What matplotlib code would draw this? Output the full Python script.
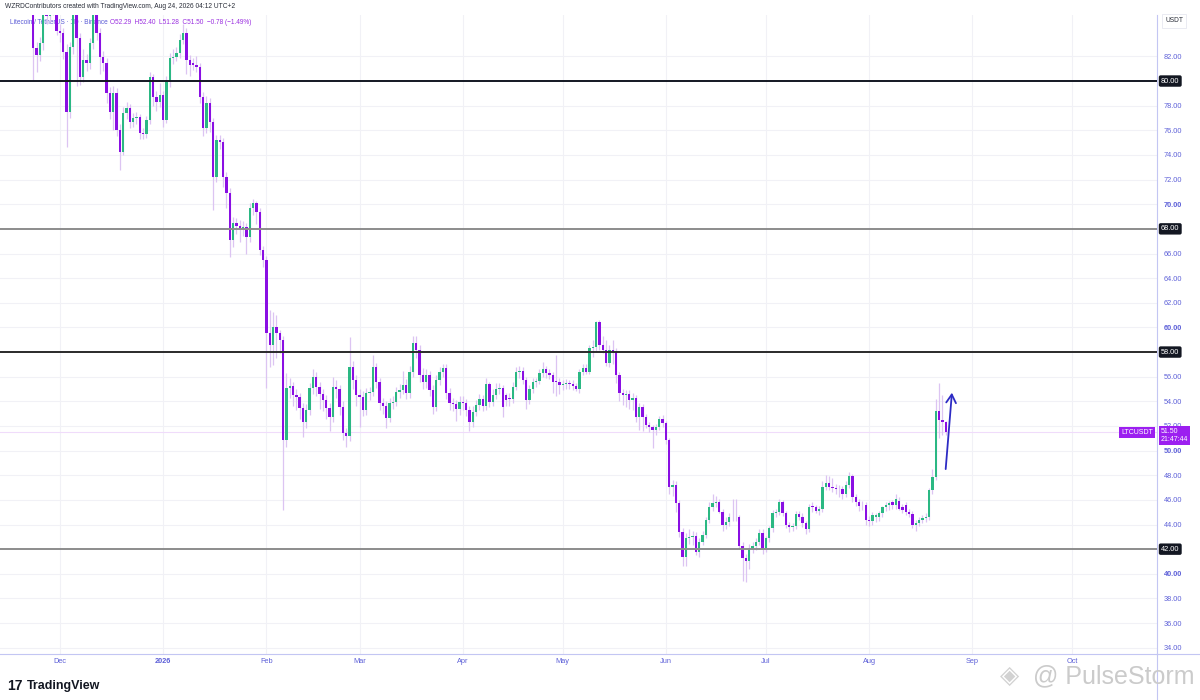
import numpy as np
import pandas as pd
import matplotlib
matplotlib.use('Agg')
import matplotlib.pyplot as plt
import matplotlib.dates as mdates
import matplotlib.transforms as mtransforms
from matplotlib.lines import Line2D

plt.rcParams['font.family'] = ['Liberation Sans', 'DejaVu Sans']

# daily LTC/USDT candles, last one is Aug 24 2026
last_day = '2026-08-24'

opens = [
    86.4, 82.65, 82.1, 83.06, 85.5, 85.3, 85.5, 86.6, 84.1, 83.87,
    82.38, 77.51, 82.78, 86.0, 83.47, 80.35, 81.7, 81.44, 83.06, 86.0,
    83.87, 81.98, 81.44, 79.0, 77.51, 79.0, 76.02, 74.26, 77.38, 77.78,
    76.70, 76.97, 77.05, 75.75, 75.67, 76.83, 80.30, 78.73, 78.32, 78.86,
    76.83, 79.95, 81.84, 81.98, 82.25, 83.33, 83.87, 81.70, 81.45, 81.30,
    81.16, 78.73, 76.16, 78.19, 76.70, 72.24, 75.21, 75.08, 72.24, 70.88,
    67.09, 68.45, 68.24, 68.07, 68.12, 67.37, 69.66, 70.07, 69.39, 66.28,
    65.47, 59.52, 58.57, 60.06, 59.52, 58.98, 50.86, 55.05, 55.24, 54.51,
    54.38, 53.43, 52.35, 53.30, 55.05, 56.00, 55.13, 54.60, 54.11, 53.43,
    52.75, 55.19, 54.97, 53.57, 51.40, 51.19, 56.81, 55.73, 54.51, 54.38,
    53.30, 54.65, 54.78, 56.81, 55.59, 53.84, 53.62, 52.62, 53.84, 53.97,
    54.78, 54.92, 55.32, 54.65, 56.41, 58.71, 58.17, 56.14, 55.59, 56.14,
    54.92, 53.57, 55.73, 56.41, 56.68, 54.65, 53.84, 53.78, 53.35, 53.97,
    53.84, 53.30, 52.35, 53.16, 53.70, 54.16, 53.60, 55.40, 53.97, 54.51,
    54.97, 55.05, 54.51, 54.30, 54.20, 55.19, 56.41, 56.45, 55.73, 54.10,
    54.97, 55.59, 55.65, 56.27, 56.59, 56.27, 56.13, 55.65, 55.59, 55.32,
    55.40, 55.42, 55.38, 55.24, 54.97, 56.41, 56.68, 56.41, 58.30, 58.38,
    60.46, 58.57, 58.16, 57.08, 58.17, 58.00, 56.14, 54.65, 54.51, 54.58,
    54.11, 54.24, 52.70, 53.51, 52.76, 52.08, 51.94, 51.67, 51.94, 52.54,
    52.21, 50.86, 47.07, 47.21, 45.72, 43.42, 41.39, 42.88, 43.00, 43.05,
    41.80, 42.61, 43.15, 44.37, 45.45, 45.77, 45.85, 45.04, 43.96, 44.23,
    44.58, 44.64, 44.58, 42.26, 41.26, 41.07, 42.07, 42.26, 42.61, 43.28,
    42.07, 42.88, 43.69, 44.91, 45.04, 45.85, 44.91, 43.96, 43.77, 43.88,
    44.85, 44.64, 44.10, 43.61, 45.45, 45.40, 45.12, 45.23, 47.07, 47.40,
    47.07, 46.94, 46.90, 46.85, 46.48, 47.21, 47.94, 46.20, 45.85, 45.55,
    45.58, 44.37, 44.30, 44.63, 44.63, 44.90, 45.39, 45.58, 45.85, 45.58,
    45.90, 45.45, 45.58, 45.04, 44.85, 43.96, 44.15, 44.37, 44.50, 44.63,
    46.80, 47.88, 53.24, 52.48, 52.29,
]

highs = [
    87.0, 83.2, 83.6, 87.0, 86.2, 86.3, 87.2, 87.0, 84.6, 84.3,
    83.0, 83.2, 86.8, 86.4, 83.9, 82.6, 82.2, 83.5, 86.8, 86.3,
    84.3, 82.4, 81.9, 79.5, 79.6, 79.4, 76.5, 77.9, 78.3, 78.1,
    77.4, 77.5, 77.3, 76.2, 77.2, 80.7, 80.6, 79.2, 79.8, 79.2,
    80.4, 82.3, 82.6, 82.8, 83.8, 84.6, 84.3, 82.1, 81.9, 82.0,
    81.5, 79.1, 78.8, 78.6, 77.0, 75.6, 75.6, 75.4, 72.6, 71.3,
    69.0, 68.9, 68.7, 68.6, 68.5, 70.1, 70.4, 70.3, 69.7, 66.6,
    65.8, 61.41, 61.28, 61.0, 59.8, 59.3, 56.3, 55.9, 55.6, 55.0,
    54.7, 53.9, 53.8, 55.5, 56.6, 56.4, 55.6, 55.0, 54.5, 53.9,
    56.0, 55.7, 55.3, 54.0, 51.8, 59.25, 57.3, 56.1, 55.0, 54.8,
    55.1, 55.2, 57.8, 57.1, 55.9, 54.3, 54.0, 54.3, 54.4, 55.2,
    55.4, 56.5, 55.8, 56.9, 59.3, 59.3, 58.6, 56.7, 56.6, 56.5,
    55.3, 56.1, 56.8, 57.0, 57.0, 55.1, 54.3, 54.1, 54.4, 54.4,
    54.2, 53.6, 53.6, 54.1, 54.6, 54.5, 55.9, 55.6, 55.0, 55.5,
    55.5, 55.3, 54.7, 54.7, 55.6, 56.8, 56.9, 56.8, 56.0, 55.3,
    55.9, 55.9, 56.6, 57.2, 56.9, 56.6, 56.4, 57.8, 55.9, 55.7,
    55.8, 55.7, 55.7, 55.5, 56.6, 57.0, 57.0, 58.6, 59.0, 60.5,
    60.6, 59.3, 59.0, 58.6, 59.0, 58.3, 56.4, 55.0, 54.9, 54.9,
    54.7, 54.5, 53.9, 53.8, 53.0, 52.3, 52.1, 52.2, 52.8, 52.9,
    52.4, 51.0, 47.6, 47.5, 46.0, 43.7, 43.3, 43.6, 43.5, 43.4,
    42.9, 43.5, 44.6, 45.8, 46.5, 46.3, 46.1, 45.3, 44.6, 44.9,
    46.1, 46.1, 44.8, 42.6, 41.6, 42.4, 42.6, 42.9, 43.6, 43.6,
    43.1, 43.9, 45.2, 45.3, 46.1, 46.0, 45.1, 44.2, 44.1, 45.1,
    45.1, 44.9, 44.3, 45.7, 45.8, 45.6, 45.5, 47.5, 48.0, 47.9,
    47.8, 47.3, 47.2, 47.1, 47.5, 48.3, 48.1, 46.5, 46.1, 45.9,
    45.8, 44.7, 45.0, 44.9, 45.1, 45.5, 45.8, 45.9, 46.0, 46.5,
    46.2, 45.7, 45.8, 45.3, 45.1, 44.4, 44.6, 44.8, 44.9, 47.0,
    48.5, 54.2, 55.46, 54.5, 52.40,
]

lows = [
    80.1, 80.75, 81.6, 82.5, 84.6, 84.8, 85.4, 83.7, 83.2, 81.8,
    74.67, 77.0, 82.2, 79.6, 79.7, 79.9, 80.8, 81.0, 82.6, 83.3,
    80.6, 80.8, 78.2, 76.9, 76.0, 75.5, 72.8, 74.0, 76.9, 76.2,
    76.3, 76.5, 75.3, 75.3, 75.4, 76.5, 78.0, 77.6, 77.9, 76.3,
    76.6, 79.5, 81.4, 81.6, 81.9, 83.0, 80.6, 80.4, 80.9, 80.7,
    78.2, 75.5, 75.8, 75.9, 69.5, 71.8, 74.5, 71.4, 69.7, 65.7,
    66.5, 67.6, 66.9, 67.4, 66.0, 66.9, 69.1, 68.4, 65.9, 64.9,
    55.05, 56.81, 56.95, 57.5, 57.9, 45.18, 50.3, 54.3, 53.6, 53.3,
    52.6, 51.13, 51.8, 52.9, 54.6, 54.4, 53.4, 53.2, 52.6, 51.6,
    52.3, 54.3, 52.9, 50.9, 50.3, 50.8, 55.0, 53.6, 51.9, 52.8,
    52.9, 54.1, 54.4, 55.1, 53.3, 53.0, 51.8, 52.3, 53.4, 53.6,
    54.3, 54.6, 54.2, 54.3, 56.0, 57.5, 55.6, 55.0, 55.1, 54.4,
    53.0, 53.2, 55.3, 56.0, 54.2, 53.3, 53.2, 52.4, 52.9, 53.3,
    52.8, 51.6, 51.9, 52.8, 53.3, 53.2, 53.3, 53.5, 53.6, 54.2,
    54.6, 52.7, 53.6, 53.6, 53.9, 54.9, 55.9, 55.4, 53.4, 53.8,
    54.7, 55.2, 55.4, 56.0, 55.9, 55.8, 54.7, 54.4, 54.6, 54.9,
    55.0, 55.0, 54.9, 54.8, 54.7, 56.1, 56.2, 56.2, 57.6, 58.0,
    58.2, 57.9, 56.9, 56.8, 57.0, 55.5, 54.0, 53.7, 53.5, 53.4,
    53.3, 52.3, 51.7, 51.6, 51.8, 51.5, 50.2, 51.3, 51.7, 51.9,
    50.5, 46.5, 46.3, 45.0, 43.0, 40.6, 40.6, 42.4, 42.3, 41.5,
    41.4, 42.3, 42.9, 44.1, 45.1, 45.4, 44.9, 43.5, 43.6, 43.9,
    44.3, 44.3, 42.0, 39.4, 39.3, 40.4, 41.7, 41.9, 42.3, 41.6,
    41.8, 42.6, 43.4, 44.6, 44.8, 44.7, 43.7, 43.4, 43.5, 43.6,
    44.4, 43.8, 43.2, 43.4, 45.0, 44.9, 44.8, 45.0, 46.8, 46.8,
    46.6, 46.5, 46.2, 46.1, 46.2, 47.0, 45.8, 45.5, 45.1, 45.2,
    44.0, 43.9, 44.0, 44.2, 44.3, 44.6, 45.1, 45.2, 45.3, 45.3,
    45.2, 44.9, 44.8, 44.6, 43.7, 43.5, 43.9, 44.1, 44.2, 44.4,
    46.5, 47.6, 51.0, 51.3, 51.28,
]

closes = [
    82.65, 82.1, 83.06, 86.3, 85.3, 85.5, 86.6, 84.1, 83.87, 82.38,
    77.51, 82.78, 86.0, 83.47, 80.35, 81.7, 81.44, 83.06, 86.0, 83.87,
    81.98, 81.44, 79.0, 77.51, 79.0, 76.02, 74.26, 77.38, 77.78, 76.70,
    76.97, 77.05, 75.75, 75.67, 76.83, 80.30, 78.73, 78.32, 78.86, 76.83,
    79.95, 81.84, 81.98, 82.25, 83.33, 83.87, 81.70, 81.30, 81.30, 81.16,
    78.73, 76.16, 78.19, 76.70, 72.24, 75.21, 75.08, 72.24, 70.88, 67.09,
    68.45, 68.24, 68.07, 68.12, 67.37, 69.66, 70.07, 69.39, 66.28, 65.47,
    59.52, 58.57, 60.06, 59.52, 58.98, 50.86, 55.05, 55.24, 54.51, 54.38,
    53.43, 52.35, 53.30, 55.05, 56.00, 55.13, 54.60, 54.11, 53.43, 52.75,
    55.19, 54.97, 53.57, 51.40, 51.19, 56.81, 55.73, 54.51, 54.38, 53.30,
    54.65, 54.78, 56.81, 55.59, 53.84, 53.62, 52.62, 53.84, 53.97, 54.78,
    54.92, 55.32, 54.65, 56.41, 58.71, 58.17, 56.14, 55.59, 56.14, 54.92,
    53.57, 55.73, 56.41, 56.68, 54.65, 53.84, 53.78, 53.35, 53.97, 53.84,
    53.30, 52.35, 53.16, 53.70, 54.16, 53.60, 55.40, 53.97, 54.51, 54.97,
    55.05, 53.56, 54.10, 54.20, 55.19, 56.41, 56.45, 55.73, 54.10, 54.97,
    55.59, 55.65, 56.27, 56.59, 56.27, 56.13, 55.59, 55.59, 55.32, 55.40,
    55.42, 55.38, 55.24, 54.97, 56.41, 56.68, 56.41, 58.30, 58.38, 60.46,
    58.57, 58.16, 57.08, 58.17, 58.00, 56.14, 54.65, 54.51, 54.58, 54.11,
    54.24, 52.70, 53.51, 52.70, 52.08, 51.94, 51.67, 51.94, 52.54, 52.21,
    50.86, 47.07, 47.21, 45.72, 43.42, 41.39, 42.88, 43.00, 43.05, 41.80,
    42.61, 43.15, 44.37, 45.45, 45.77, 45.85, 45.04, 43.96, 44.23, 44.58,
    44.64, 44.58, 42.26, 41.26, 41.07, 42.07, 42.26, 42.61, 43.28, 42.07,
    42.88, 43.69, 44.91, 45.04, 45.85, 44.91, 43.96, 43.77, 43.88, 44.85,
    44.64, 44.10, 43.61, 45.45, 45.40, 45.12, 45.23, 47.07, 47.40, 47.07,
    46.94, 46.90, 46.85, 46.48, 47.21, 47.94, 46.20, 45.85, 45.50, 45.58,
    44.37, 44.30, 44.77, 44.77, 44.90, 45.39, 45.58, 45.72, 45.58, 46.04,
    45.30, 45.18, 45.04, 44.85, 43.96, 44.15, 44.37, 44.50, 44.63, 46.80,
    47.88, 53.24, 52.48, 52.29, 51.50,
]

# horizontal levels drawn on the chart
levels = [80, 68, 58, 42]
level_colors = ['#131722', '#8c8c8c', '#2a2a2a', '#8c8c8c']

# hand-drawn arrow (date, price)
arrow_start = ('2026-08-24 00:00', 48.5)
arrow_end = ('2026-08-25 21:00', 54.7)

month_starts = pd.date_range('2025-12-01', '2026-10-01', freq='MS')
month_labels = ['Dec', '2026', 'Feb', 'Mar', 'Apr', 'May', 'Jun', 'Jul', 'Aug', 'Sep', 'Oct']
price_ticks = [v for v in range(34, 84, 2) if v not in levels]

UP = '#2bb883'
DOWN = '#8a0fe3'
WICK = '#dcc4f2'
AXIS_TXT = '#5d60d8'

o = np.array(opens)
h = np.array(highs)
l = np.array(lows)
c = np.array(closes)
dates = pd.date_range(end=last_day, periods=len(c), freq='D')
x = mdates.date2num(dates)
cols = np.where(c >= o, UP, DOWN)

fig = plt.figure(figsize=(12, 7), dpi=100)
fig.patch.set_facecolor('white')
ax = fig.add_axes([0, 46 / 700, 1157 / 1200, 639 / 700])

ax.vlines(x, l, h, color=WICK, lw=0.9, zorder=2)
ax.bar(x, np.maximum(np.abs(c - o), 0.07), bottom=np.minimum(o, c), width=0.7,
       color=cols, linewidth=0, zorder=3)

for lv, lc in zip(levels, level_colors):
    ax.axhline(lv, color=lc, lw=1.4, zorder=4)

# faint last-price line
ax.axhline(c[-1], color='#f0dcfb', lw=0.8, zorder=1)

t0 = pd.Timestamp('2025-11-21')
ax.set_xlim(mdates.date2num(t0 - pd.Timedelta(days=7.99)),
            mdates.date2num(t0 + pd.Timedelta(days=339.46)))
ax.set_ylim(33.49, 85.36)

ax.set_xticks(mdates.date2num(month_starts))
ax.set_xticklabels(month_labels)
for lab in ax.get_xticklabels():
    if lab.get_text() == '2026':
        lab.set_fontweight('bold')
ax.yaxis.tick_right()
ax.set_yticks(price_ticks)
ax.set_yticklabels([f'{v:.2f}' for v in price_ticks])
for lab, v in zip(ax.get_yticklabels(), price_ticks):
    if v % 10 == 0:
        lab.set_fontweight('bold')
ax.tick_params(axis='both', length=0, labelsize=5.3, labelcolor=AXIS_TXT)
ax.tick_params(axis='x', pad=3)
ax.tick_params(axis='y', pad=5)

ax.grid(True, color='#f1f1f6', lw=0.8, zorder=0)
ax.set_axisbelow(True)
for s in ['top', 'left']:
    ax.spines[s].set_visible(False)
for s in ['right', 'bottom']:
    ax.spines[s].set_color('#c3c6f3')
    ax.spines[s].set_linewidth(0.8)

trans = mtransforms.blended_transform_factory(ax.transAxes, ax.transData)
for lv in levels:
    ax.annotate(f'{lv:.2f}', xy=(1, lv), xycoords=trans, xytext=(4, 0),
                textcoords='offset pixels', ha='left', va='center', fontsize=5.3,
                color='white', annotation_clip=False, zorder=6,
                bbox=dict(boxstyle='round,pad=0.3,rounding_size=0.25', fc='#131722', ec='none'))

ax.annotate('LTCUSDT', xy=(1, c[-1]), xycoords=trans, xytext=(-4, 0),
            textcoords='offset pixels', ha='right', va='center', fontsize=5,
            color='white', annotation_clip=False, zorder=6,
            bbox=dict(boxstyle='square,pad=0.3', fc='#9c1ff0', ec='none'))
ax.annotate(f'{c[-1]:.2f}\n21:47:44', xy=(1, c[-1]), xycoords=trans, xytext=(4, 4),
            textcoords='offset pixels', ha='left', va='top', fontsize=5,
            color='white', linespacing=1.25, annotation_clip=False, zorder=6,
            bbox=dict(boxstyle='square,pad=0.3', fc='#9c1ff0', ec='none'))

ax.annotate('', xy=(mdates.date2num(pd.Timestamp(arrow_end[0])), arrow_end[1]),
            xytext=(mdates.date2num(pd.Timestamp(arrow_start[0])), arrow_start[1]),
            arrowprops=dict(arrowstyle='->,head_length=0.6,head_width=0.35',
                            color='#2d2bc4', lw=1.3, shrinkA=0, shrinkB=0),
            zorder=7)

# legend text sits under the candles, like on the screenshot
ax.text(10 / 1200, 1 - 22 / 700, 'Litecoin / TetherUS · 1D · Binance', transform=fig.transFigure,
        fontsize=4.7, color='#5b5bd6', va='center', zorder=1)
ax.text(110 / 1200, 1 - 22 / 700, 'O52.29  H52.40  L51.28  C51.50  \u22120.78 (\u22121.49%)',
        transform=fig.transFigure, fontsize=4.7, color='#9a2ee0', va='center', zorder=1)

fig.text(5 / 1200, 1 - 7 / 700, 'WZRDContributors created with TradingView.com, Aug 24, 2026 04:12 UTC+2',
         fontsize=4.8, color='#2a2e39', va='center')
fig.text(1174 / 1200, 1 - 21 / 700, 'USDT', fontsize=4.8, color='#2a2e39', ha='center', va='center',
         bbox=dict(boxstyle='square,pad=0.5', fc='white', ec='#e6e8f0', lw=0.6))

x_ax = 1157 / 1200
fig.add_artist(Line2D([x_ax, x_ax], [0, 46 / 700], color='#c3c6f3', lw=0.8))
fig.add_artist(Line2D([x_ax, 1], [46 / 700, 46 / 700], color='#c3c6f3', lw=0.8))

fig.text(7 / 1200, 1 - 686 / 700, '17', fontsize=10, fontweight='heavy', color='#131722', va='center')
fig.text(27 / 1200, 1 - 686 / 700, 'TradingView', fontsize=9, fontweight='bold', color='#131722', va='center')

fig.text(1000 / 1200, 1 - 676 / 700, '\u25c8', fontsize=18, color='#d2d2d2', va='center',
         family='DejaVu Sans')
fig.text(1033 / 1200, 1 - 676 / 700, '@ PulseStorm', fontsize=18, color='#cbcbcb', va='center')

fig.savefig('out.png', dpi=100)
